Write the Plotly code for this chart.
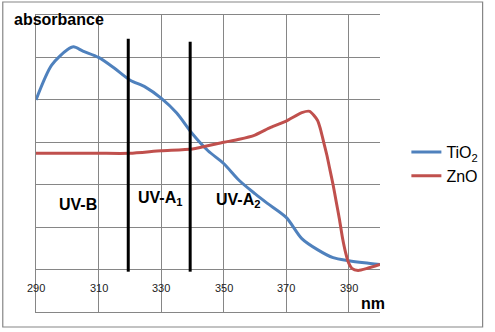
import plotly.graph_objects as go

# ---- data ----
tio2_nm = [290, 295, 300, 302, 305, 310, 315, 320, 325, 330, 335, 340, 345, 350,
           355, 360, 364, 370, 375, 380, 385, 390, 395, 400]
tio2_abs = [4.0, 4.82, 5.18, 5.25, 5.15, 5.0, 4.75, 4.47, 4.3, 4.04, 3.69, 3.2, 2.8, 2.5,
            2.1, 1.79, 1.56, 1.23, 0.73, 0.47, 0.28, 0.21, 0.16, 0.12]

zno_nm = [290, 300, 310, 320, 330, 340, 350, 355, 360, 365, 370, 375, 377.5, 380,
          381, 382, 383, 384, 385, 386, 387, 388, 389, 390, 391, 393, 396, 400]
zno_abs = [2.74, 2.74, 2.74, 2.74, 2.8, 2.84, 3.0, 3.07, 3.17, 3.35, 3.5, 3.7, 3.73, 3.52,
           3.3, 3.0, 2.7, 2.35, 2.0, 1.6, 1.2, 0.75, 0.4, 0.15, 0.03, -0.02, 0.03, 0.12]

uv_bounds = [319.5, 339.3]
uv_tops = [5.44, 5.37]
uv_labels = ["UV-B", "UV-A<sub>1</sub>", "UV-A<sub>2</sub>"]
uv_label_x = [303.5, 329.5, 354.5]
uv_label_y = [1.54, 1.68, 1.63]

x_ticks = [290, 310, 330, 350, 370, 390]

BLUE = "#4F81BD"
RED = "#C0504D"
GRID = "#868686"
FONT = "Liberation Sans, Arial, sans-serif"

fig = go.Figure()
fig.add_trace(go.Scatter(x=tio2_nm, y=tio2_abs, mode="lines", name="TiO<sub>2</sub>",
                         line=dict(color=BLUE, width=3, shape="spline", smoothing=0.8)))
fig.add_trace(go.Scatter(x=zno_nm, y=zno_abs, mode="lines", name="ZnO",
                         line=dict(color=RED, width=3, shape="spline", smoothing=0.6)))

for xb, top in zip(uv_bounds, uv_tops):
    fig.add_trace(go.Scatter(x=[xb, xb], y=[-0.05, top], mode="lines", showlegend=False,
                             line=dict(color="black", width=3), hoverinfo="skip"))

W, H = 495, 332
ml, mr, mt, mb = 36, 107, 15, 20
pw, ph = W - ml - mr, H - mt - mb

def px_x(p):
    return (p - ml) / pw

def px_y(p):
    return (H - mb - p) / ph

annotations = []
for t, xx, yy in zip(uv_labels, uv_label_x, uv_label_y):
    annotations.append(dict(x=xx, y=yy, xref="x", yref="y", text="<b>%s</b>" % t,
                            showarrow=False, font=dict(family=FONT, size=16, color="black")))
for v in x_ticks:
    annotations.append(dict(x=v, y=-0.43, xref="x", yref="y", text=str(v), showarrow=False,
                            font=dict(family=FONT, size=11, color="#222222")))
annotations.append(dict(x=px_x(11), y=px_y(19), xref="paper", yref="paper", xanchor="left",
                        yanchor="middle", text="<b>absorbance</b>", showarrow=False,
                        font=dict(family=FONT, size=16, color="black")))
annotations.append(dict(x=px_x(381), y=px_y(303), xref="paper", yref="paper", xanchor="center",
                        yanchor="middle", text="<b>nm</b>", showarrow=False,
                        font=dict(family=FONT, size=16, color="black")))

fig.update_layout(
    width=W, height=H,
    margin=dict(l=ml, r=mr, t=mt, b=mb),
    paper_bgcolor="white", plot_bgcolor="white",
    font=dict(family=FONT),
    xaxis=dict(range=[290, 400], tickvals=x_ticks, showticklabels=False, showgrid=True,
               gridcolor=GRID, gridwidth=1, zeroline=False, showline=True, linecolor=GRID,
               linewidth=1, mirror=True, ticks=""),
    yaxis=dict(range=[-1, 6], dtick=1, tick0=0, showticklabels=False, showgrid=True,
               gridcolor=GRID, gridwidth=1, zeroline=False, showline=True, linecolor=GRID,
               linewidth=1, mirror=False, ticks=""),
    legend=dict(x=px_x(415), y=px_y(135), xanchor="left", yanchor="top",
                font=dict(family=FONT, size=16, color="black"), bgcolor="rgba(0,0,0,0)",
                itemwidth=30),
    annotations=annotations,
    shapes=[dict(type="rect", xref="paper", yref="paper",
                 x0=px_x(2), x1=px_x(493), y0=px_y(327), y1=px_y(2),
                 line=dict(color=GRID, width=1.2), fillcolor="rgba(0,0,0,0)", layer="below")],
    showlegend=True,
)

fig.write_html("out.html")
